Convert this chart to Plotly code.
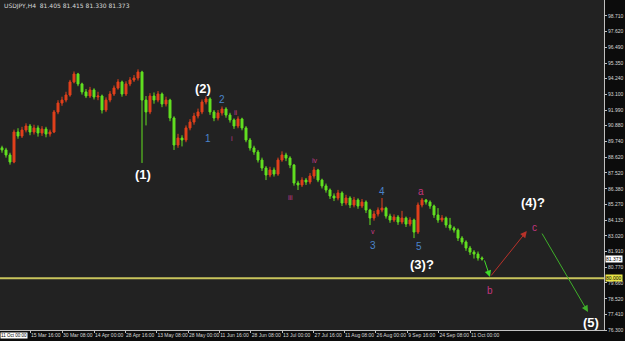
import plotly.graph_objects as go

# ---- data (USDJPY H4; one candle per ~8 source bars) ----
opens = [89.30, 89.15, 88.79, 88.29, 90.43, 90.14, 90.57, 90.86, 90.43, 90.72,
         90.36, 90.64, 90.29, 90.43, 91.86, 92.50, 92.71, 93.07, 94.00, 94.57,
         93.86, 93.29, 93.00, 93.43, 92.93, 93.00, 92.00, 92.71, 93.14, 93.57,
         94.00, 93.14, 93.86, 94.14, 94.28, 94.71, 92.71, 91.86, 93.00, 92.71,
         93.14, 92.43, 92.71, 91.43, 89.50, 90.00, 89.86, 90.72, 91.14, 91.57,
         91.86, 92.57, 92.79, 91.86, 91.43, 91.79, 92.07, 91.64, 91.29, 90.86,
         91.36, 90.72, 89.86, 89.29, 89.00, 88.43, 87.86, 87.36, 87.72, 87.43,
         88.43, 88.79, 88.57, 88.07, 86.79, 86.65, 87.00, 86.86, 87.29, 87.72,
         87.00, 86.58, 86.29, 85.86, 85.72, 86.08, 85.36, 85.72, 85.22, 85.58,
         85.15, 85.43, 84.86, 84.29, 84.58, 84.86, 85.00, 84.43, 84.15, 84.36,
         84.01, 84.29, 83.86, 84.15, 83.29, 85.22, 85.58, 85.43, 85.15, 84.51,
         84.15, 84.29, 83.79, 83.58, 83.43, 82.86, 82.58, 82.15, 81.86, 81.72,
         81.44]
closes = [89.15, 88.79, 88.29, 90.43, 90.14, 90.57, 90.86, 90.43, 90.72, 90.36,
          90.64, 90.29, 90.43, 91.86, 92.50, 92.71, 93.07, 94.00, 94.57, 93.86,
          93.29, 93.00, 93.43, 92.93, 93.00, 92.00, 92.71, 93.14, 93.57, 94.00,
          93.14, 93.86, 94.14, 94.28, 94.71, 92.71, 91.86, 93.00, 92.71, 93.14,
          92.43, 92.71, 91.43, 89.50, 90.00, 89.86, 90.72, 91.14, 91.57, 91.86,
          92.57, 92.79, 91.86, 91.43, 91.79, 92.07, 91.64, 91.29, 90.86, 91.36,
          90.72, 89.86, 89.29, 89.00, 88.43, 87.86, 87.36, 87.72, 87.43, 88.43,
          88.79, 88.57, 88.07, 86.79, 86.65, 87.00, 86.86, 87.29, 87.72, 87.00,
          86.58, 86.29, 85.86, 85.72, 86.08, 85.36, 85.72, 85.22, 85.58, 85.15,
          85.43, 84.86, 84.29, 84.58, 84.86, 85.00, 84.43, 84.15, 84.36, 84.01,
          84.29, 83.86, 84.15, 83.29, 85.22, 85.58, 85.43, 85.15, 84.51, 84.15,
          84.29, 83.79, 83.58, 83.43, 82.86, 82.58, 82.15, 81.86, 81.72, 81.44,
          81.37]
highs = [89.45, 89.30, 88.95, 90.60, 90.70, 90.80, 91.05, 91.00, 90.95, 90.90,
         90.85, 90.80, 90.60, 92.00, 92.70, 92.95, 93.30, 94.15, 94.75, 94.65,
         93.95, 93.50, 93.65, 93.55, 93.30, 93.10, 92.90, 93.35, 93.75, 94.20,
         94.10, 94.05, 94.35, 94.50, 94.90, 94.80, 93.00, 93.20, 93.25, 93.35,
         93.25, 92.95, 92.80, 91.55, 90.30, 90.20, 90.90, 91.35, 91.80, 92.10,
         92.75, 92.98, 92.90, 92.00, 92.00, 92.25, 92.20, 91.80, 91.40, 91.55,
         91.45, 90.85, 90.00, 89.45, 89.15, 88.60, 88.00, 87.95, 87.90, 88.60,
         89.05, 88.95, 88.70, 88.15, 86.95, 87.20, 87.15, 87.50, 87.95, 87.80,
         87.10, 86.75, 86.40, 86.05, 86.30, 86.20, 85.95, 85.85, 85.80, 85.70,
         85.65, 85.55, 84.95, 84.80, 85.05, 85.72, 85.10, 84.60, 84.55, 84.50,
         84.80, 84.40, 84.35, 84.25, 85.40, 85.72, 85.65, 85.55, 85.25, 85.00,
         84.50, 84.40, 84.30, 83.70, 83.55, 83.00, 82.70, 82.30, 82.00, 81.90,
         81.55]
lows = [88.95, 88.60, 88.10, 88.20, 89.95, 90.00, 90.40, 90.20, 90.25, 90.10,
        90.15, 90.05, 90.10, 90.35, 91.70, 92.30, 92.55, 92.95, 93.90, 93.70,
        93.10, 92.85, 92.85, 92.75, 92.70, 91.75, 91.85, 92.55, 93.00, 93.45,
        92.95, 93.00, 93.70, 94.00, 94.10, 88.22, 90.90, 91.70, 92.45, 92.55,
        92.20, 92.25, 91.20, 89.15, 89.30, 89.40, 89.70, 90.55, 90.95, 91.40,
        91.70, 92.40, 91.65, 91.20, 91.25, 91.60, 91.45, 91.10, 90.65, 90.70,
        90.55, 89.70, 89.10, 88.80, 88.25, 87.65, 87.00, 87.20, 87.25, 87.30,
        88.30, 88.35, 87.85, 86.60, 86.29, 86.50, 86.65, 86.70, 87.10, 86.85,
        86.40, 86.10, 85.65, 85.50, 85.55, 85.15, 85.20, 85.00, 85.05, 84.95,
        85.00, 84.65, 83.79, 84.10, 84.40, 84.70, 84.25, 83.95, 84.00, 83.80,
        83.85, 83.65, 83.70, 82.86, 83.15, 85.05, 85.25, 84.95, 84.30, 83.95,
        84.00, 83.60, 83.40, 83.25, 82.65, 82.40, 81.95, 81.65, 81.40, 81.25,
        81.25]

tick_labels = ["15 Mar 16:00", "30 Mar 08:00", "14 Apr 00:00", "28 Apr 16:00",
               "13 May 08:00", "28 May 00:00", "11 Jun 16:00", "28 Jun 08:00",
               "13 Jul 00:00", "27 Jul 16:00", "11 Aug 08:00", "26 Aug 00:00",
               "9 Sep 16:00", "24 Sep 08:00", "11 Oct 00:00"]
tick_bars = [7, 15, 23, 30.75, 38.6, 46.5, 54.3, 62.2, 70, 77.9, 85.5, 93.4, 101.3, 109.1, 117]

price_ticks = [98.710, 97.620, 96.490, 95.350, 94.240, 93.100, 91.990, 90.880, 89.740,
               88.620, 87.520, 86.380, 85.270, 84.130, 83.020, 81.910, 80.770, 79.660,
               78.520, 77.410, 76.300]

last_price = 81.373
support_level = 80.00

# projected path: end of data -> b -> c, then (4) -> (5)
proj_b = (122, 80.08)
proj_c = (131.2, 83.36)
proj_4 = (134.8, 83.29)
proj_5 = (146.5, 77.58)

x = list(range(len(closes)))

UP = "#e2401c"
DOWN = "#62e021"
SMALL = "Liberation Sans Narrow, Liberation Sans, Arial Narrow, sans-serif"

fig = go.Figure()
fig.add_trace(go.Candlestick(
    x=x, open=opens, high=highs, low=lows, close=closes,
    increasing=dict(line=dict(color=UP, width=1), fillcolor=UP),
    decreasing=dict(line=dict(color=DOWN, width=1), fillcolor=DOWN),
    whiskerwidth=0, showlegend=False, hoverinfo="skip"))

fig.add_shape(type="line", xref="paper", x0=0, x1=1, yref="y", y0=support_level, y1=support_level,
              line=dict(color="#c8c45c", width=2))

ann = []
def arrow(p0, p1, color):
    ann.append(dict(x=p1[0], y=p1[1], ax=p0[0], ay=p0[1], xref="x", yref="y",
                    axref="x", ayref="y", showarrow=True, arrowhead=2, arrowsize=1.3,
                    arrowwidth=1, arrowcolor=color, text=""))

arrow((x[-1] + 0.5, closes[-1]), proj_b, "#3fdc2a")
arrow(proj_b, proj_c, "#b8322a")
arrow(proj_4, proj_5, "#3fb02a")

WHITE = dict(color="#ffffff", size=13, family="Liberation Sans")
BLUE = dict(color="#4a84cc", size=10, family="Liberation Sans")
MAG = dict(color="#c2367f", size=10, family="Liberation Sans")
MAGS = dict(color="#c83a86", size=7, family="Liberation Sans")

labels = [
    ("<b>(1)</b>", 35.3, 87.40, WHITE), ("<b>(2)</b>", 50.3, 93.55, WHITE),
    ("<b>(3)?</b>", 105, 80.95, WHITE), ("<b>(4)?</b>", 132.8, 85.43, WHITE),
    ("<b>(5)</b>", 147.3, 76.85, WHITE),
    ("1", 51.5, 89.95, BLUE), ("2", 55, 92.72, BLUE), ("3", 92.8, 82.30, BLUE),
    ("4", 95, 86.20, BLUE), ("5", 104.2, 82.25, BLUE),
    ("i", 57.5, 90.00, MAGS), ("ii", 58.5, 91.80, MAGS), ("iii", 72, 85.75, MAGS),
    ("iv", 78.3, 88.40, MAGS), ("v", 92.8, 83.30, MAGS),
    ("a", 104.8, 86.15, MAG), ("b", 122, 79.15, MAG), ("c", 133.2, 83.65, MAG),
]
for t, bx, py, f in labels:
    ann.append(dict(x=bx, y=py, xref="x", yref="y", text=t, showarrow=False, font=f))

ann.append(dict(x=0.003, y=1, xref="paper", yref="paper", xanchor="left", yanchor="top",
                text="USDJPY,H4  81.405 81.415 81.330 81.373", showarrow=False,
                font=dict(color="#d8d8d8", size=6, family="DejaVu Sans")))
ann.append(dict(x=1.002, y=last_price, xref="paper", yref="y", xanchor="left",
                text=f"{last_price:.3f}", showarrow=False, bgcolor="#ffffff", borderpad=0,
                font=dict(color="#000000", size=5, family=SMALL)))
ann.append(dict(x=1.002, y=support_level, xref="paper", yref="y", xanchor="left",
                text=f"{support_level:.3f}", showarrow=False, bgcolor="#e8e447", borderpad=0,
                font=dict(color="#000000", size=5, family=SMALL)))
ann.append(dict(x=0, y=0, xref="paper", yref="paper", xanchor="left", yanchor="top",
                yshift=-2, text="11 Oct 00:00", showarrow=False, bgcolor="#ffffff", borderpad=0,
                font=dict(color="#000000", size=4.5, family=SMALL)))

fig.update_layout(
    width=625, height=341, margin=dict(l=0, r=21, t=0, b=11, autoexpand=False),
    paper_bgcolor="#0c0c0c", plot_bgcolor="#222222",
    annotations=ann, showlegend=False,
    xaxis=dict(range=[-0.5, 150.5], rangeslider=dict(visible=False), showgrid=False,
               zeroline=False, tickvals=tick_bars, ticktext=tick_labels, tickangle=0,
               automargin=False,
               ticklabelposition="outside right", ticks="outside", ticklen=2,
               tickcolor="#c0c0c0", showline=True, linecolor="#c0c0c0", linewidth=1,
               tickfont=dict(color="#d8d8d8", size=5, family=SMALL)),
    yaxis=dict(range=[76.30, 99.85], side="right", showgrid=False, zeroline=False,
               automargin=False,
               tickvals=price_ticks, ticktext=[f"{v:.3f}" for v in price_ticks],
               ticks="outside", ticklen=2, tickcolor="#c0c0c0",
               showline=True, linecolor="#c0c0c0", linewidth=1,
               tickfont=dict(color="#d8d8d8", size=5, family=SMALL)),
)

fig.write_html("out.html")
